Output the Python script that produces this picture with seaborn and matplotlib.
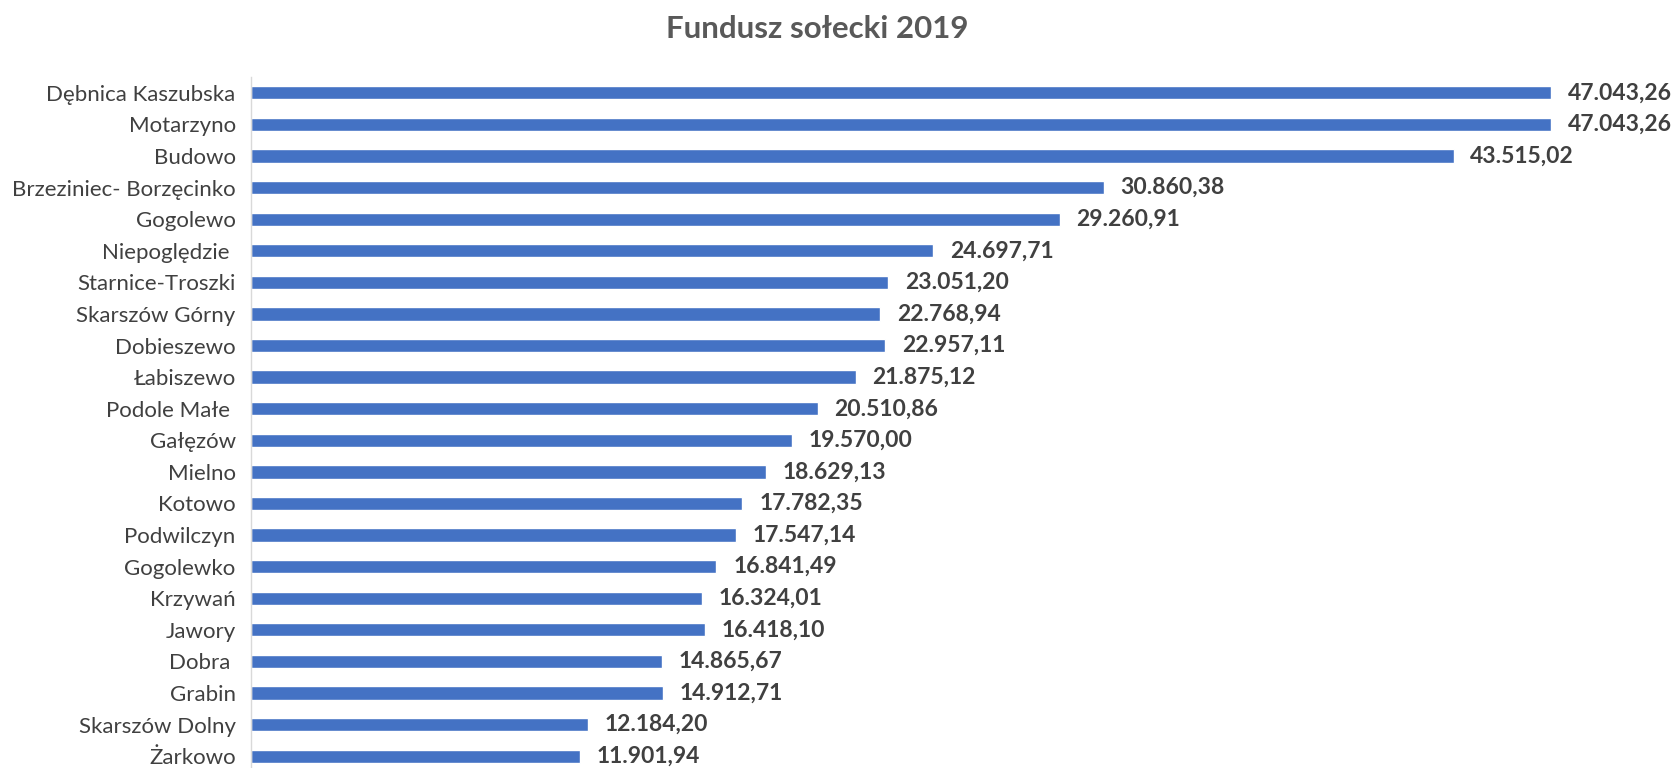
import matplotlib
matplotlib.use("Agg")
import matplotlib.pyplot as plt
import seaborn as sns
import pandas as pd

# data
villages = [
    "Dębnica Kaszubska", "Motarzyno", "Budowo", "Brzeziniec- Borzęcinko", "Gogolewo",
    "Niepoględzie ", "Starnice-Troszki", "Skarszów Górny", "Dobieszewo", "Łabiszewo",
    "Podole Małe ", "Gałęzów", "Mielno", "Kotowo", "Podwilczyn", "Gogolewko",
    "Krzywań", "Jawory", "Dobra ", "Grabin", "Skarszów Dolny", "Żarkowo",
]
amounts = [
    47043.26, 47043.26, 43515.02, 30860.38, 29260.91,
    24697.71, 23051.20, 22768.94, 22957.11, 21875.12,
    20510.86, 19570.00, 18629.13, 17782.35, 17547.14, 16841.49,
    16324.01, 16418.10, 14865.67, 14912.71, 12184.20, 11901.94,
]

df = pd.DataFrame({"sołectwo": villages, "kwota": amounts})


def pl_format(v):
    s = f"{v:,.2f}"
    return s.replace(",", " ").replace(".", ",").replace(" ", ".")


sns.set_theme(style="white")
plt.rcParams["font.family"] = ["Lato", "DejaVu Sans"]

W, H = 1671, 768
fig = plt.figure(figsize=(W / 100, H / 100), dpi=100)
# axes placed in pixel terms
left, right = 251, 1551
top, bottom = 77, 772
ax = fig.add_axes([left / W, (H - bottom) / H, (right - left) / W, (bottom - top) / H])

sns.barplot(data=df, y="sołectwo", x="kwota", orient="h", color="#4472C4",
            width=0.42, saturation=1, ax=ax)

ax.set_xlim(0, max(amounts))
ax.set_ylim(len(villages) - 0.5, -0.5)
ax.set_xlabel("")
ax.set_ylabel("")
ax.set_xticks([])
ax.tick_params(axis="y", length=0, pad=11, labelsize=16, labelcolor="#404040")
for side in ["top", "right", "bottom"]:
    ax.spines[side].set_visible(False)
ax.spines["left"].set_color("#D9D9D9")
ax.spines["left"].set_linewidth(1)

for i, v in enumerate(amounts):
    ax.annotate(pl_format(v), (v, i), xytext=(12, 0), textcoords="offset points",
                va="center", ha="left", fontsize=16.5, fontweight="bold",
                color="#404040", annotation_clip=False)

fig.text(0.489, 0.962, "Fundusz sołecki 2019", ha="center", va="center",
         fontsize=22.5, fontweight="bold", color="#595959")

fig.savefig("out.png", dpi=100)
